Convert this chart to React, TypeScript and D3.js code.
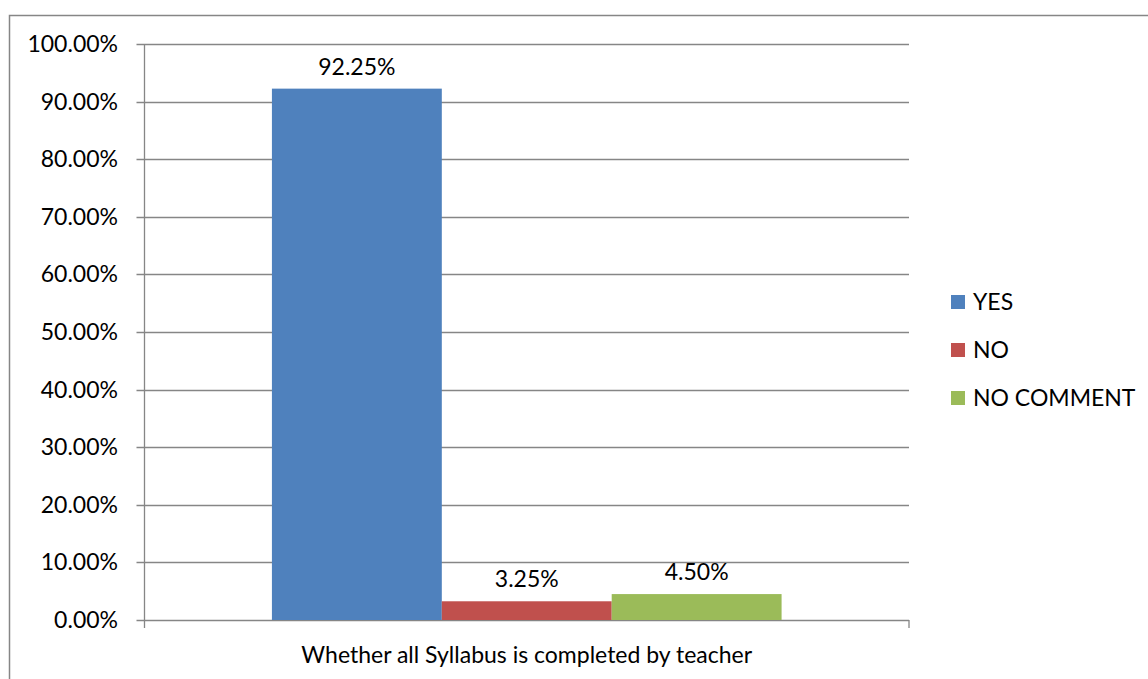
import React from "react";
import * as d3 from "d3";

const category = "Whether all Syllabus is completed by teacher";
const seriesNames = ["YES", "NO", "NO COMMENT"];
const seriesValues = [0.9225, 0.0325, 0.045];
const seriesColors = ["#4F81BD", "#C0504D", "#9BBB59"];
const yTicks = [0, 0.1, 0.2, 0.3, 0.4, 0.5, 0.6, 0.7, 0.8, 0.9, 1.0];

const W = 1148;
const H = 679;
const FONT = "Lato, 'Open Sans', sans-serif";
const FS = 23;

export default function App() {
  const plot = { left: 144.5, right: 909, top: 44, bottom: 620 };
  const y = d3.scaleLinear().domain([0, 1]).range([plot.bottom, plot.top]);
  const xCat = d3.scaleBand().domain([category]).range([plot.left, plot.right]).paddingInner(0).paddingOuter(0);
  const catW = xCat.bandwidth();
  const barW = catW / 4.5;
  const groupStart = (xCat(category) as number) + barW * 0.75;
  const xs = d3.scaleBand().domain(seriesNames).range([groupStart, groupStart + barW * 3]).padding(0);
  const fmt = d3.format(".2%");
  const grid = "#868686";

  return (
    <svg width={W} height={H} style={{ position: "absolute", left: 0, top: 0, background: "#fff" }} fontFamily={FONT}>
      <rect x={9.5} y={15.5} width={W} height={H} fill="#fff" stroke="#868686" strokeWidth={1.5} />
      {yTicks.map((t) => (
        <g key={t}>
          <line x1={plot.left - 8} x2={plot.right} y1={Math.round(y(t)) + 0.5} y2={Math.round(y(t)) + 0.5} stroke={grid} strokeWidth={1.3} />
          <text x={118} y={y(t)} dy="0.35em" textAnchor="end" fontSize={FS} fill="#000">{fmt(t)}</text>
        </g>
      ))}
      <line x1={plot.left} x2={plot.left} y1={plot.top} y2={plot.bottom + 8} stroke={grid} strokeWidth={1.3} />
      <line x1={plot.right} x2={plot.right} y1={plot.bottom} y2={plot.bottom + 8} stroke={grid} strokeWidth={1.3} />
      {seriesNames.map((s, i) => (
        <g key={s}>
          <rect x={xs(s)} y={y(seriesValues[i])} width={xs.bandwidth()} height={plot.bottom - y(seriesValues[i])} fill={seriesColors[i]} />
          <text x={(xs(s) as number) + xs.bandwidth() / 2} y={y(seriesValues[i]) - 22} dy="0.35em" textAnchor="middle" fontSize={FS} fill="#000">{fmt(seriesValues[i])}</text>
        </g>
      ))}
      <text x={(plot.left + plot.right) / 2} y={655} dy="0.35em" textAnchor="middle" fontSize={FS} fill="#000">{category}</text>
      {seriesNames.map((s, i) => (
        <g key={s} transform={`translate(951, ${302 + i * 48})`}>
          <rect x={0} y={-7} width={14} height={14} fill={seriesColors[i]} />
          <text x={22} y={0} dy="0.35em" fontSize={FS} fill="#000">{s}</text>
        </g>
      ))}
    </svg>
  );
}
